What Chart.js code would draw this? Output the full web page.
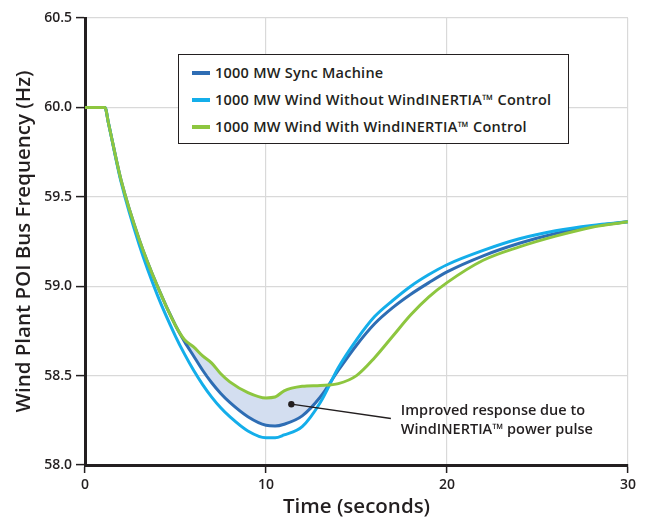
<!DOCTYPE html>
<html>
<head>
<meta charset="utf-8">
<script src="https://cdn.jsdelivr.net/npm/chart.js@4.4.1/dist/chart.umd.min.js"></script>
<style>
  html, body { margin: 0; padding: 0; background: #fff; }
  #wrap { position: relative; width: 647px; height: 519px; }
  #legend {
    position: absolute; left: 178px; top: 54px; width: 391px; height: 90px;
    box-sizing: border-box; border: 1.5px solid #231F20; background: #fff;
    font-family: 'Open Sans', sans-serif; font-weight: 600; font-size: 14.5px; letter-spacing: 0.25px; color: #231F20;
  }
  #legend .row { position: absolute; left: 13px; height: 20px; line-height: 20px; white-space: nowrap; }
  #legend .swatch { display: inline-block; width: 18px; height: 4px; vertical-align: middle; margin-right: 5px; position: relative; top: -1px; }
</style>
</head>
<body>
<div id="wrap">
  <canvas id="chart" width="647" height="519"></canvas>
  <div id="legend"></div>
</div>
<script>
// Time axis samples (seconds)
const times = [0, 1.1, 1.3, 2, 3, 4, 5, 5.5, 6, 6.5, 7, 7.5, 8, 9, 10, 10.5, 11, 12, 13, 14, 15, 16, 17, 18, 19, 20, 22, 24, 26, 28, 30];

// Frequency (Hz)
const syncMachine = [60, 60, 59.91, 59.59, 59.26, 59.0, 58.78, 58.69, 58.61, 58.53, 58.46, 58.40, 58.35, 58.27, 58.222, 58.218, 58.228, 58.275, 58.38, 58.53, 58.67, 58.79, 58.88, 58.955, 59.02, 59.08, 59.17, 59.24, 59.295, 59.335, 59.36];
const windWithout = [60, 60, 59.91, 59.58, 59.23, 58.95, 58.72, 58.62, 58.53, 58.45, 58.38, 58.32, 58.27, 58.19, 58.152, 58.152, 58.168, 58.215, 58.35, 58.545, 58.70, 58.83, 58.92, 59.0, 59.065, 59.12, 59.20, 59.265, 59.31, 59.34, 59.36];
const windWith = [60, 60, 59.91, 59.59, 59.26, 59.0, 58.78, 58.70, 58.66, 58.61, 58.57, 58.51, 58.465, 58.405, 58.375, 58.38, 58.415, 58.44, 58.445, 58.455, 58.50, 58.60, 58.72, 58.84, 58.94, 59.02, 59.145, 59.22, 59.28, 59.33, 59.36];

const seriesLabels = ['1000 MW Sync Machine', '1000 MW Wind Without WindINERTIA\u2122 Control', '1000 MW Wind With WindINERTIA\u2122 Control'];
const seriesColors = ['#2E6DB4', '#14AEEA', '#8DC63F'];

const yTicks = [58.0, 58.5, 59.0, 59.5, 60.0, 60.5];
const xTicks = [0, 10, 20, 30];

// Annotation, in data units
const notePoint = { x: 11.4, y: 58.34 };
const noteEnd = { x: 16.9, y: 58.26 };
const noteAnchor = { x: 17.45, y: 58.25 };
const noteLines = ['Improved response due to', 'WindINERTIA\u2122 power pulse'];

const INK = '#231F20';
const GRID = '#D9D9D9';

const toPoints = values => values.map((v, i) => ({ x: times[i], y: v }));

// Build the boxed legend beside the chart
const legendEl = document.getElementById('legend');
seriesLabels.forEach((label, i) => {
  legendEl.insertAdjacentHTML(
    'beforeend',
    `<div class="row" style="top:${8 + i * 27}px"><span class="swatch" style="background:${seriesColors[i]}"></span>${label}</div>`,
  );
});

// Draws the callout dot, leader line and note text
const notePlugin = {
  id: 'note',
  afterDatasetsDraw(chart) {
    const { ctx, scales: { x, y } } = chart;
    const px = x.getPixelForValue(notePoint.x);
    const py = y.getPixelForValue(notePoint.y);
    ctx.save();
    ctx.strokeStyle = INK;
    ctx.lineWidth = 1.3;
    ctx.beginPath();
    ctx.moveTo(px, py);
    ctx.lineTo(x.getPixelForValue(noteEnd.x), y.getPixelForValue(noteEnd.y));
    ctx.stroke();
    ctx.fillStyle = INK;
    ctx.beginPath();
    ctx.arc(px, py, 3.2, 0, Math.PI * 2);
    ctx.fill();
    ctx.font = '600 14.5px "Open Sans"';
    ctx.textBaseline = 'middle';
    const ax = x.getPixelForValue(noteAnchor.x);
    const ay = y.getPixelForValue(noteAnchor.y);
    ctx.fillText(noteLines[0], ax, ay - 9);
    ctx.fillText(noteLines[1], ax, ay + 10);
    ctx.restore();
  },
};

const commonLine = {
  borderWidth: 3,
  pointRadius: 0,
  cubicInterpolationMode: 'monotone',
};

new Chart(document.getElementById('chart'), {
  type: 'line',
  data: {
    datasets: [
      { ...commonLine, label: seriesLabels[0], data: toPoints(syncMachine), borderColor: seriesColors[0], order: 2, fill: false },
      { ...commonLine, label: seriesLabels[1], data: toPoints(windWithout), borderColor: seriesColors[1], order: 1, fill: false },
      {
        ...commonLine,
        label: seriesLabels[2],
        data: toPoints(windWith),
        borderColor: seriesColors[2],
        order: 0,
        fill: { target: 0, above: '#D3DEF0', below: 'rgba(0,0,0,0)' },
      },
    ],
  },
  options: {
    responsive: false,
    animation: false,
    layout: { padding: { top: 18, right: 19, left: 0, bottom: 0 } },
    plugins: {
      legend: { display: false },
      tooltip: { enabled: false },
      filler: { drawTime: 'beforeDatasetsDraw' },
    },
    scales: {
      x: {
        type: 'linear',
        min: 0,
        max: 30,
        afterBuildTicks: scale => { scale.ticks = xTicks.map(v => ({ value: v })); },
        afterFit: scale => { scale.height = 54; },
        grid: { color: GRID, lineWidth: 1.2, tickColor: INK, tickLength: 8, tickWidth: 1.5 },
        border: { color: INK, width: 3 },
        ticks: { color: INK, padding: 4, font: { family: 'Open Sans', size: 14, weight: 600 } },
        title: { display: true, text: 'Time (seconds)', color: INK, padding: { top: 0, bottom: 0 }, font: { family: 'Open Sans', size: 20.5, weight: 600 } },
      },
      y: {
        min: 58,
        max: 60.5,
        afterBuildTicks: scale => { scale.ticks = yTicks.map(v => ({ value: v })); },
        afterFit: scale => { scale.width = 85; },
        grid: { color: GRID, lineWidth: 1.2, tickColor: INK, tickLength: 9, tickWidth: 1.5 },
        border: { color: INK, width: 3 },
        ticks: { color: INK, padding: 4, font: { family: 'Open Sans', size: 14, weight: 600 }, callback: v => v.toFixed(1) },
        title: { display: true, text: 'Wind Plant POI Bus Frequency (Hz)', color: INK, padding: { top: 12, bottom: 0 }, font: { family: 'Open Sans', size: 20.5, weight: 600 } },
      },
    },
  },
  plugins: [notePlugin],
});
</script>
</body>
</html>
